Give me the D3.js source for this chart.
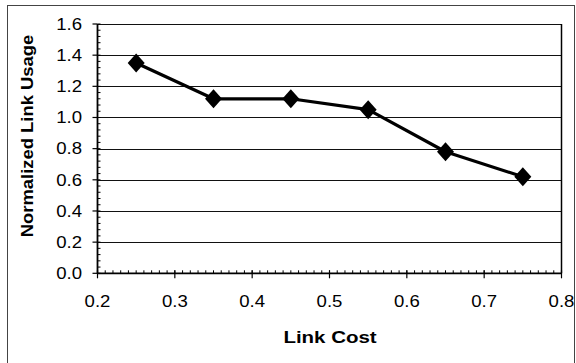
<!DOCTYPE html>
<html>
<head>
<meta charset="utf-8">
<script src="https://cdn.jsdelivr.net/npm/d3@7"></script>
<style>
  html, body { margin: 0; padding: 0; background: #fff; }
  svg { display: block; }
</style>
</head>
<body>
<svg id="chart" width="576" height="363"></svg>
<script>
// ---- data ----
const linkCost = [0.25, 0.35, 0.45, 0.55, 0.65, 0.75];
const linkUsage = [1.35, 1.12, 1.12, 1.05, 0.78, 0.62];
const xTicks = [0.2, 0.3, 0.4, 0.5, 0.6, 0.7, 0.8];
const yTicks = [0.0, 0.2, 0.4, 0.6, 0.8, 1.0, 1.2, 1.4, 1.6];
const xTitle = "Link Cost";
const yTitle = "Normalized Link Usage";

(function () {
const svg = d3.select("#chart");
const pLeft = 97.5, pRight = 561.5, pTop = 24, pBottom = 273.3;

const x = d3.scaleLinear().domain([0.2, 0.8]).range([pLeft, pRight]);
const y = d3.scaleLinear().domain([0, 1.6]).range([pBottom, pTop]);

// outer frame
svg.append("rect").attr("x", 7.5).attr("y", 5.5).attr("width", 567).attr("height", 362)
  .attr("fill", "none").attr("stroke", "#444").attr("stroke-width", 1);

// gridlines
svg.append("g").selectAll("line").data(yTicks.filter(d => d > 0)).join("line")
  .attr("x1", pLeft).attr("x2", pRight)
  .attr("y1", d => Math.round(y(d)) + 0.5).attr("y2", d => Math.round(y(d)) + 0.5)
  .attr("stroke", "#111").attr("stroke-width", 1);

// right border
svg.append("line").attr("x1", pRight).attr("x2", pRight).attr("y1", pTop).attr("y2", pBottom)
  .attr("stroke", "#000").attr("stroke-width", 1.5);

// y axis
const yMinor = d3.range(0, 1.6001, 0.04);
svg.append("g").selectAll("line").data(yMinor).join("line")
  .attr("x1", pLeft).attr("x2", pLeft + 3)
  .attr("y1", d => y(d)).attr("y2", d => y(d))
  .attr("stroke", "#000").attr("stroke-width", 1);
svg.append("g").selectAll("line").data(yTicks).join("line")
  .attr("x1", pLeft - 5).attr("x2", pLeft)
  .attr("y1", d => y(d)).attr("y2", d => y(d))
  .attr("stroke", "#000").attr("stroke-width", 1.2);
svg.append("line").attr("x1", pLeft).attr("x2", pLeft).attr("y1", pTop).attr("y2", pBottom)
  .attr("stroke", "#000").attr("stroke-width", 1.8);

// x axis
const xMinor = d3.range(0.2, 0.8001, 0.01);
svg.append("g").selectAll("line").data(xMinor).join("line")
  .attr("x1", d => x(d)).attr("x2", d => x(d))
  .attr("y1", pBottom).attr("y2", pBottom - 3)
  .attr("stroke", "#000").attr("stroke-width", 1);
svg.append("g").selectAll("line").data(xTicks).join("line")
  .attr("x1", d => x(d)).attr("x2", d => x(d))
  .attr("y1", pBottom - 3).attr("y2", pBottom + 5)
  .attr("stroke", "#000").attr("stroke-width", 1.2);
svg.append("line").attr("x1", pLeft).attr("x2", pRight).attr("y1", pBottom).attr("y2", pBottom)
  .attr("stroke", "#000").attr("stroke-width", 1.8);

const font = "'Liberation Sans', Arial, Helvetica, sans-serif";
const sx = 1.16;

// y tick labels
svg.append("g").selectAll("text").data(yTicks).join("text")
  .attr("transform", d => `translate(82,${y(d)}) scale(${sx},1)`)
  .attr("text-anchor", "end").attr("dy", "0.36em")
  .attr("font-family", font).attr("font-size", 16).attr("fill", "#000")
  .text(d => d.toFixed(1));

// x tick labels
svg.append("g").selectAll("text").data(xTicks).join("text")
  .attr("transform", d => `translate(${x(d)},301) scale(${sx},1)`)
  .attr("text-anchor", "middle").attr("dy", "0.36em")
  .attr("font-family", font).attr("font-size", 16).attr("fill", "#000")
  .text(d => d.toFixed(1));

// axis titles
svg.append("text")
  .attr("transform", `translate(330,343) scale(1.28,1)`)
  .attr("text-anchor", "middle")
  .attr("font-family", font).attr("font-size", 16).attr("font-weight", "bold").attr("fill", "#000")
  .text(xTitle);
svg.append("text")
  .attr("transform", `translate(33,136) rotate(-90) scale(1.15,1)`)
  .attr("text-anchor", "middle")
  .attr("font-family", font).attr("font-size", 16).attr("font-weight", "bold").attr("fill", "#000")
  .text(yTitle);

// series line
const pts = linkCost.map((c, i) => [c, linkUsage[i]]);
svg.append("path").datum(pts)
  .attr("d", d3.line().x(d => x(d[0])).y(d => y(d[1])))
  .attr("fill", "none").attr("stroke", "#000").attr("stroke-width", 3.2).attr("stroke-linejoin", "round");

// diamond markers
svg.append("g").selectAll("path").data(pts).join("path")
  .attr("transform", d => `translate(${x(d[0])},${y(d[1])})`)
  .attr("d", "M0,-9.5L8.5,0L0,9.5L-8.5,0Z")
  .attr("fill", "#000");
})();
</script>
</body>
</html>
